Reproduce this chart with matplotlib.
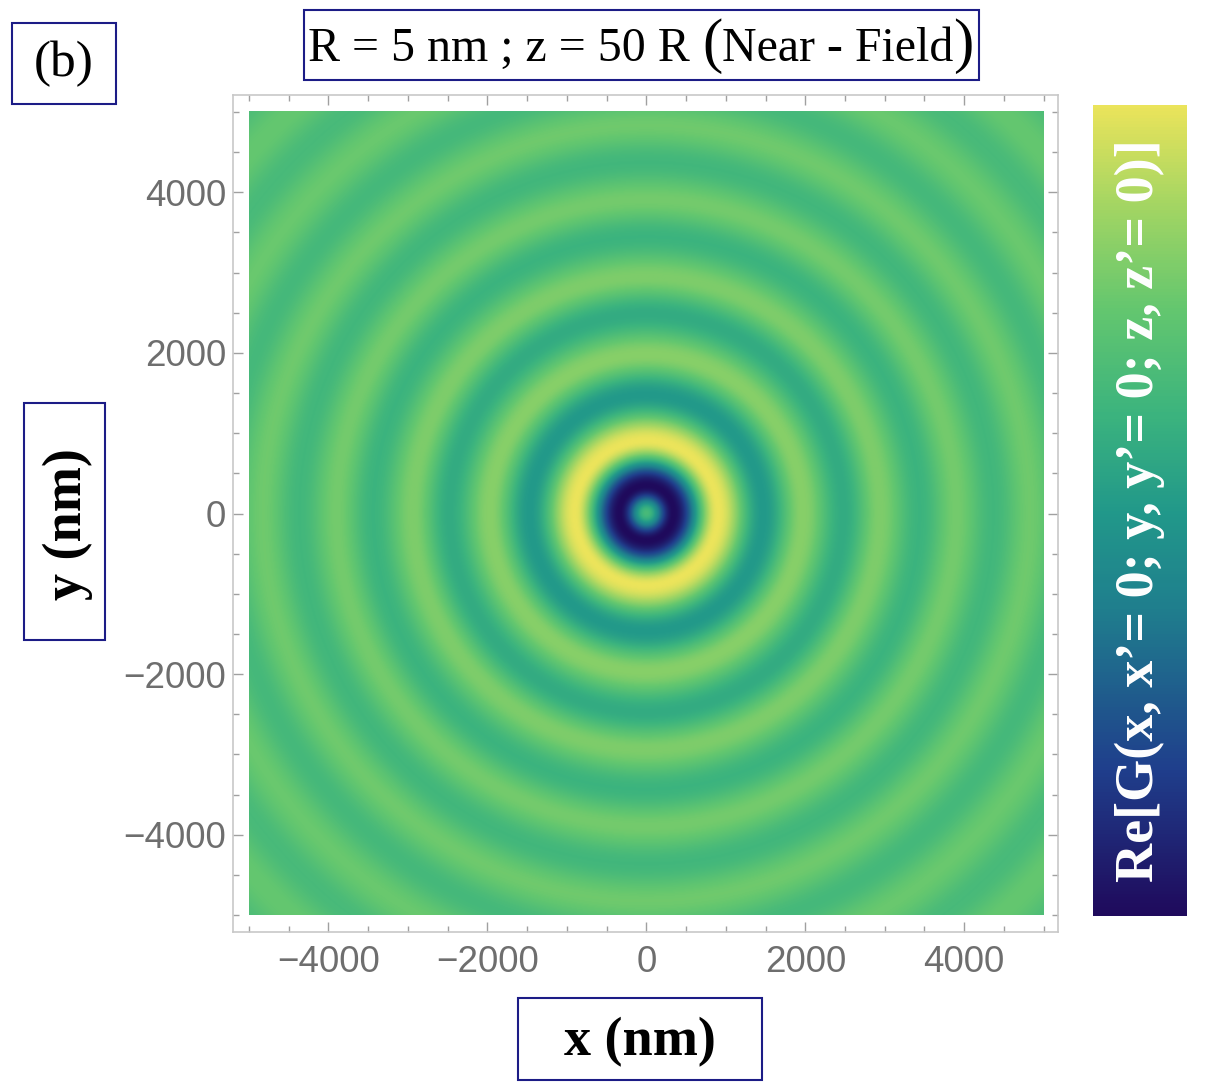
import numpy as np
import matplotlib
matplotlib.use("Agg")
import matplotlib.pyplot as plt
from matplotlib.colors import LinearSegmentedColormap
from matplotlib.patches import Rectangle

# radial profile of Re[G]: radius of each ring extreme (nm)
# and its level on the colour scale (0 = dark, 1 = yellow)
ring_r = [0, 340, 900, 1470, 1970, 2480, 2940, 3440, 3900, 4370, 4830, 5300, 5770, 6240, 6700, 7170]
ring_v = [0.66, 0.0, 1.0, 0.50, 0.82, 0.58, 0.80, 0.62, 0.78, 0.64, 0.77, 0.65, 0.76, 0.66, 0.75, 0.67]

x_ticks = [-4000, -2000, 0, 2000, 4000]
y_ticks = [-4000, -2000, 0, 2000, 4000]
half_width = 5000

title = "R = 5 nm ; z = 50 R "
title_inner = "Near - Field"
cbar_label = "Re[G(x, x\u2019= 0; y, y\u2019= 0; z, z\u2019= 0)]"

# Mathematica BlueGreenYellow-like map
cmap = LinearSegmentedColormap.from_list("bgy", [
    (0.00, "#1f0a5c"), (0.18, "#203f8c"), (0.38, "#1f7f8e"),
    (0.50, "#22998a"), (0.62, "#3cb47e"), (0.75, "#64c76f"),
    (0.88, "#a5d663"), (1.00, "#ebe45b")])


def radial_level(r):
    # smooth (cosine) easing between the read ring extremes
    rr = np.asarray(ring_r, float)
    vv = np.asarray(ring_v, float)
    i = np.clip(np.searchsorted(rr, r, side="right") - 1, 0, len(rr) - 2)
    t = np.clip((r - rr[i]) / (rr[i + 1] - rr[i]), 0, 1)
    w = (1 - np.cos(np.pi * t)) / 2
    return vv[i] * (1 - w) + vv[i + 1] * w


W, H = 1207, 1091
fig = plt.figure(figsize=(W / 100, H / 100), dpi=100)

def fx(px):
    return px / W

def fy(py):
    return 1 - py / H

grid = np.linspace(-half_width, half_width, 801)
gx, gy = np.meshgrid(grid, grid)
field = radial_level(np.hypot(gx, gy))

ax = fig.add_axes([fx(233), fy(932), fx(1058) - fx(233), fy(95) - fy(932)])
ax.imshow(field, cmap=cmap, vmin=0, vmax=1, origin="lower",
          extent=[-half_width, half_width, -half_width, half_width],
          interpolation="bilinear", aspect="auto")
ax.set_xlim(-5200, 5180)
ax.set_ylim(-5210, 5210)
ax.set_xticks(x_ticks)
ax.set_yticks(y_ticks)
ax.set_xticklabels(["\u2212%d" % -v if v < 0 else str(v) for v in x_ticks])
ax.set_yticklabels(["\u2212%d" % -v if v < 0 else str(v) for v in y_ticks])
ax.xaxis.set_minor_locator(plt.MultipleLocator(500))
ax.yaxis.set_minor_locator(plt.MultipleLocator(500))
for sp in ax.spines.values():
    sp.set_color("#c8c8c8")
    sp.set_linewidth(1.2)
ax.tick_params(which="both", direction="in", top=True, right=True, color="#a0a0a0", width=1)
ax.tick_params(which="major", length=7, labelsize=26.5, labelcolor="#6e6e6e")
ax.tick_params(axis="y", which="major", pad=5)
ax.tick_params(axis="x", which="major", pad=9)
ax.tick_params(which="minor", length=4)
for lab in ax.get_xticklabels() + ax.get_yticklabels():
    lab.set_family("Liberation Sans")

# colour bar
cax = fig.add_axes([fx(1093), fy(916), fx(1187) - fx(1093), fy(105) - fy(916)])
cax.imshow(np.linspace(0, 1, 256)[:, None], cmap=cmap, origin="lower",
           aspect="auto", extent=[0, 1, 0, 1])
cax.set_axis_off()
cax.text(0.5, 0.5, cbar_label, rotation=90, ha="center", va="center",
         color="white", fontsize=39, fontweight="bold", family="Liberation Serif",
         transform=cax.transAxes)

navy = "#1c1c86"

def box(x0, y0, x1, y1):
    fig.patches.append(Rectangle((fx(x0), fy(y1)), fx(x1) - fx(x0), fy(y0) - fy(y1),
                                 transform=fig.transFigure, fill=False,
                                 edgecolor=navy, linewidth=1.5))

box(12, 23, 116, 104)
fig.text(fx(64), fy(64), "(b)", ha="center", va="center", fontsize=37,
         family="Liberation Serif")

box(24, 403, 105, 640)
fig.text(fx(68), fy(524), "y (nm)", ha="center", va="center", rotation=90,
         fontsize=39, fontweight="bold", family="Liberation Serif")

box(518, 998, 762, 1080)
fig.text(fx(640), fy(1042), "x (nm)", ha="center", va="center",
         fontsize=39, fontweight="bold", family="Liberation Serif")

# title with tall parentheses, laid out piece by piece
box(304, 10, 979, 80)
renderer = fig.canvas.get_renderer()
pieces = [(title, 34.5), ("(", 44), (title_inner, 34.5), (")", 44)]
objs = []
for s, size in pieces:
    t = fig.text(0, fy(61), s, ha="left", va="baseline", fontsize=size,
                 family="Liberation Serif")
    objs.append(t)
widths = [t.get_window_extent(renderer).width for t in objs]
start = 641 - sum(widths) / 2
for t, w in zip(objs, widths):
    t.set_x(fx(start))
    start += w

fig.savefig("out.png", dpi=100)
